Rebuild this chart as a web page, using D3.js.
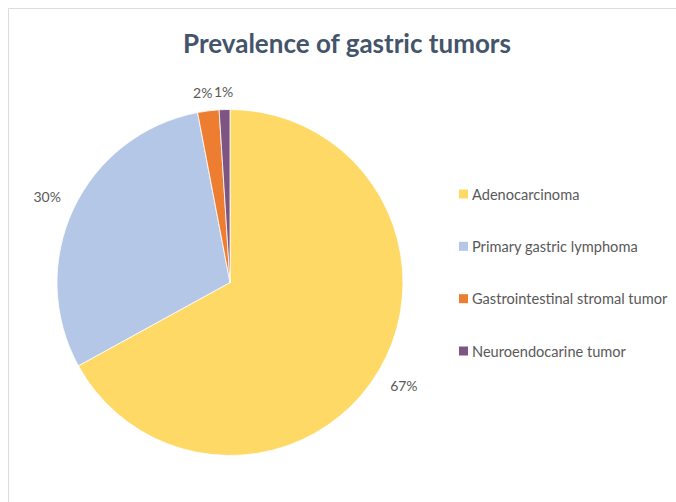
<!DOCTYPE html>
<html><head><meta charset="utf-8">
<script src="https://cdn.jsdelivr.net/npm/d3@7"></script>
<style>body{margin:0;background:#fff}svg{display:block}</style>
</head><body>
<svg id="c" width="676" height="502"></svg>
<script>
const categories = ["Adenocarcinoma","Primary gastric lymphoma","Gastrointestinal stromal tumor","Neuroendocarine tumor"];
const values = [67, 30, 2, 1];
const colors = ["#FFD966","#B4C7E7","#ED7D31","#7E5580"];
const labels = ["67%","30%","2%","1%"];

const svg = d3.select("#c");
const font = "Lato, 'Open Sans', sans-serif";
// border
svg.append("path").attr("d","M8.5,502 V8.5 H676").attr("fill","none").attr("stroke","#d9dde6").attr("stroke-width",1);

svg.append("text").attr("x",347).attr("y",53).attr("text-anchor","middle")
  .attr("font-family",font).attr("font-weight","bold").attr("font-size",26)
  .attr("fill","#44546A").text("Prevalence of gastric tumors");

const cx=230, cy=282.5, r=173;
const data = categories.map((c,i)=>({c, v:values[i], col:colors[i], lab:labels[i]}));
const pie = d3.pie().value(d=>d.v).sort(null);
const arc = d3.arc().innerRadius(0).outerRadius(r);
const g = svg.append("g").attr("transform",`translate(${cx},${cy})`);
const arcs = pie(data);
g.selectAll("path").data(arcs).enter().append("path")
  .attr("d",arc).attr("fill",d=>d.data.col).attr("stroke","#fff").attr("stroke-width",0.8);

const labelArc = d3.arc().innerRadius(r+29).outerRadius(r+29);
const labPos = arcs.map(a=>labelArc.centroid(a));
// manual nudges for small slices so they sit side by side (as in the reference)
const adj = [[0,0],[0,0],[-2,10],[0,11]];
g.selectAll("text.l").data(arcs).enter().append("text")
  .attr("x",(d,i)=>labPos[i][0]+adj[i][0]).attr("y",(d,i)=>labPos[i][1]+adj[i][1])
  .attr("text-anchor","middle").attr("dominant-baseline","central")
  .attr("font-family",font).attr("font-size",14).attr("fill","#595959")
  .text(d=>d.data.lab);

const legY = d3.scalePoint().domain(categories).range([194,351]);
const lg = svg.append("g");
categories.forEach((c,i)=>{
  lg.append("rect").attr("x",459).attr("y",legY(c)-4.5).attr("width",9).attr("height",9).attr("fill",colors[i]);
  lg.append("text").attr("x",472).attr("y",legY(c)).attr("dominant-baseline","central")
    .attr("font-family",font).attr("font-size",14.6).attr("fill","#595959").text(c);
});
</script>
</body></html>
